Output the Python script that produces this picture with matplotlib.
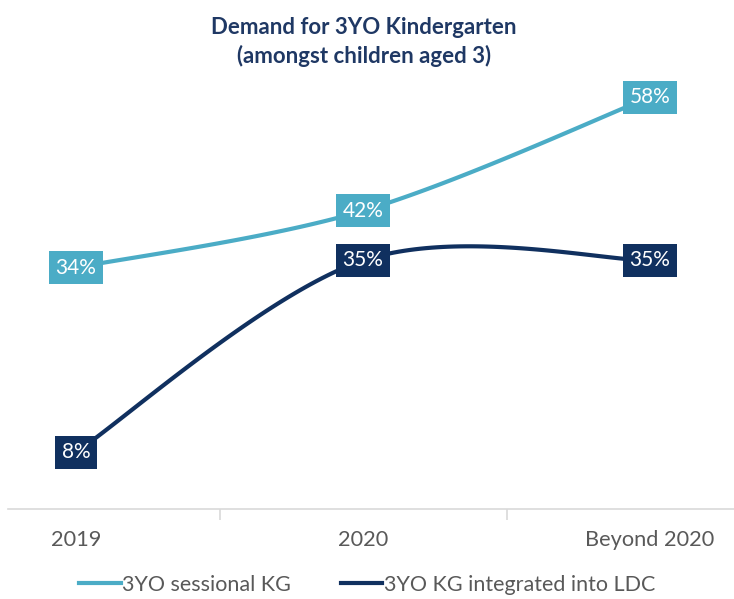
import numpy as np
import matplotlib
matplotlib.use("Agg")
import matplotlib.pyplot as plt
from matplotlib.lines import Line2D

plt.rcParams['font.family'] = ['Lato', 'DejaVu Sans']

categories = ["2019", "2020", "Beyond 2020"]
sessional = [34, 42, 58]
integrated = [8, 35, 35]
series_names = ["3YO sessional KG", "3YO KG integrated into LDC"]
title = "Demand for 3YO Kindergarten\n(amongst children aged 3)"

LIGHT = "#4BACC6"
DARK = "#10305F"
TITLE_C = "#1F3864"
GRAY = "#595959"

def smooth(xs, ys, n=60):
    xs = np.asarray(xs, float); ys = np.asarray(ys, float)
    P = np.column_stack([xs, ys])
    Pext = np.vstack([P[0], P, P[-1]])
    out = []
    for i in range(len(P) - 1):
        p0, p1, p2, p3 = Pext[i], Pext[i+1], Pext[i+2], Pext[i+3]
        c1 = p1 + (p2 - p0) / 6.0
        c2 = p2 - (p3 - p1) / 6.0
        t = np.linspace(0, 1, n)[:, None]
        seg = ((1-t)**3)*p1 + 3*((1-t)**2)*t*c1 + 3*(1-t)*t**2*c2 + t**3*p2
        out.append(seg if i == 0 else seg[1:])
    seg = np.vstack(out)
    return seg[:, 0], seg[:, 1]

W, H = 734, 599
fig = plt.figure(figsize=(W/100, H/100), dpi=100)
ax_left_px, ax_right_px = 8, 734
ax_bottom_px, ax_top_px = 509, 83
ax = fig.add_axes([ax_left_px/W, 1 - ax_bottom_px/H,
                   (ax_right_px-ax_left_px)/W, (ax_bottom_px-ax_top_px)/H])

x = np.arange(len(categories))
c0, step = 76, 287
ax.set_xlim((ax_left_px - c0)/step, (ax_right_px - c0)/step)
ax.set_ylim(0, 60)

for vals, col in [(sessional, LIGHT), (integrated, DARK)]:
    sx, sy = smooth(x, vals)
    ax.plot(sx, sy, color=col, lw=3, solid_capstyle='butt', zorder=2)
    for xi, v in zip(x, vals):
        ax.text(xi, v, f"{v}%", ha='center', va='center', color='white',
                fontsize=15, zorder=3,
                bbox=dict(boxstyle='square,pad=0.32', fc=col, ec='none'))

for s in ['top', 'right', 'left']:
    ax.spines[s].set_visible(False)
ax.spines['bottom'].set_color('#D9D9D9')
ax.spines['bottom'].set_linewidth(1.2)
ax.set_yticks([])
ax.set_xticks(x)
ax.set_xticklabels(categories, fontsize=15.7, color=GRAY)
ax.tick_params(axis='x', which='major', length=0, pad=15)
ax.set_xticks([0.5, 1.5], minor=True)
ax.tick_params(axis='x', which='minor', length=8, color='#D9D9D9', width=1.2)

fig.text(364/W, 1 - 42/H, title, ha='center', va='center', fontsize=16,
         fontweight='bold', color=TITLE_C, linespacing=1.4)

handles = [Line2D([], [], color=LIGHT, lw=3), Line2D([], [], color=DARK, lw=3)]
fig.legend(handles, series_names, loc='center', bbox_to_anchor=(367/W, 1 - 585/H),
           ncol=2, frameon=False, fontsize=15.5, handlelength=1.95, handletextpad=0.05,
           columnspacing=2.3, labelcolor=GRAY)

fig.savefig("out.png", dpi=100)
